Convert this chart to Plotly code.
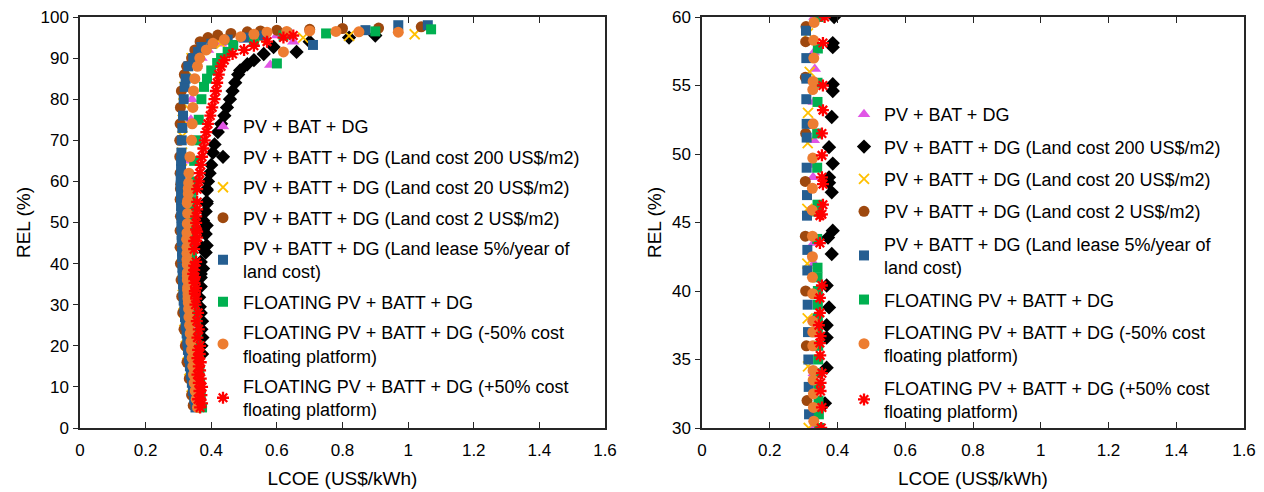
import plotly.graph_objects as go

# ---------------- data (REL %, LCOE US$/kWh) ----------------
names = [
    "PV + BAT + DG",
    "PV + BATT + DG (Land cost 200 US$/m2)",
    "PV + BATT + DG (Land cost 20 US$/m2)",
    "PV + BATT + DG (Land cost 2 US$/m2)",
    "PV + BATT + DG (Land lease 5%/year of<br>land cost)",
    "FLOATING PV + BATT + DG",
    "FLOATING PV + BATT + DG (-50% cost<br>floating platform)",
    "FLOATING PV + BATT + DG (+50% cost<br>floating platform)",
]

rel_pv_bat = [5, 10, 15, 20, 25, 30, 34, 38, 42, 43.5, 46, 48.3, 49.2, 51, 53.8, 56.2, 57.4, 60, 65, 70,
              75, 80, 85, 88, 88.3, 90, 92, 93.5, 94, 94.5, 95.5]
lcoe_pv_bat = [0.36, 0.35, 0.343, 0.337, 0.332, 0.33, 0.33, 0.33, 0.33, 0.33, 0.33, 0.328, 0.33, 0.33, 0.33,
               0.333, 0.33, 0.332, 0.334, 0.336, 0.338, 0.341, 0.345, 0.355, 0.58, 0.37, 0.39, 0.43, 0.65, 0.50, 0.60]

rel_land200 = [18, 20, 22, 24, 26, 28, 29.5, 31.8, 34.4, 36.6, 37.5, 38.8, 40.4, 42.7, 43.9, 44.4, 47.2, 47.9,
               48.3, 49.3, 50.5, 52.7, 54.6, 55.1, 57.8, 58.1, 60, 62, 64, 67, 69, 72, 74, 76, 78, 80, 82, 84,
               86, 87, 88.5, 89.5, 91, 92.7, 91.5, 94, 95, 95.5]
lcoe_land200 = [0.372, 0.37, 0.373, 0.37, 0.372, 0.368, 0.365, 0.363, 0.368, 0.368, 0.368, 0.375, 0.368, 0.383,
                0.372, 0.386, 0.383, 0.375, 0.375, 0.386, 0.375, 0.383, 0.386, 0.386, 0.386, 0.386, 0.39, 0.395,
                0.40, 0.405, 0.41, 0.42, 0.43, 0.44, 0.448, 0.457, 0.465, 0.473, 0.482, 0.488, 0.51, 0.53, 0.56,
                0.59, 0.66, 0.70, 0.82, 0.90]

rel_land20 = [6, 10, 14, 18, 22, 26, 30, 34.5, 38, 42, 46, 50.8, 53, 56, 58.8, 63, 67, 71, 75, 79, 83, 87, 90,
              92, 93.5, 94.5, 95, 95.4, 95.8]
lcoe_land20 = [0.348, 0.340, 0.333, 0.327, 0.322, 0.318, 0.315, 0.313, 0.312, 0.311, 0.311, 0.312, 0.313,
               0.318, 0.313, 0.311, 0.311, 0.312, 0.313, 0.315, 0.318, 0.325, 0.34, 0.37, 0.43, 0.55, 0.68,
               0.82, 1.02]

rel_land2 = [5.5, 8, 12, 16, 20, 24, 28, 32, 36, 40, 44, 48, 51.5, 55.6, 58.2, 59.3, 62, 66, 70, 74, 78, 82, 86,
             88, 90, 92, 94, 95, 95.6, 96, 96.4, 96.6, 96.8, 97, 97.2, 97.3, 97.6]
lcoe_land2 = [0.345, 0.340, 0.333, 0.326, 0.321, 0.317, 0.313, 0.310, 0.308, 0.306, 0.305, 0.305, 0.306, 0.305,
              0.306, 0.307, 0.305, 0.304, 0.304, 0.305, 0.306, 0.309, 0.318, 0.325, 0.34, 0.35, 0.366, 0.39,
              0.42, 0.46, 0.51, 0.55, 0.60, 0.70, 0.80, 0.91, 1.04]

rel_lease = [5, 7, 9, 11, 13, 15, 17, 19, 21, 23, 25, 27, 29, 31, 33, 35, 37, 39, 41.5, 43, 45.5, 47, 49, 51.2,
             52.2, 54, 55.5, 57, 59, 61, 63, 65, 67, 70, 73, 76, 80, 83, 85, 88, 90, 91.5, 92.7, 93.5, 94.5, 95,
             95.5, 96, 93.2, 96.8, 98, 98]
lcoe_lease = [0.352, 0.348, 0.344, 0.341, 0.338, 0.335, 0.332, 0.329, 0.327, 0.325, 0.322, 0.320, 0.318, 0.316,
              0.315, 0.314, 0.313, 0.312, 0.311, 0.311, 0.310, 0.310, 0.309, 0.309, 0.309, 0.308, 0.308, 0.308,
              0.307, 0.307, 0.308, 0.308, 0.309, 0.310, 0.312, 0.314, 0.316, 0.319, 0.322, 0.33, 0.345, 0.36,
              0.37, 0.40, 0.45, 0.50, 0.56, 0.63, 0.71, 0.87, 0.97, 1.06]

rel_float = [5, 8, 11, 14, 17, 20, 23, 26, 28, 29, 30, 31, 32, 33, 34, 35, 36, 37, 38, 39, 40, 41, 41.7, 43.8,
             45.8, 46.3, 49, 51.5, 53.8, 55.2, 57.7, 60, 65, 70, 75, 80, 83, 85, 87, 88.8, 88.7, 90, 91.5, 93.2,
             94.4, 95.5, 96, 96.5, 97]
lcoe_float = [0.372, 0.368, 0.366, 0.364, 0.362, 0.360, 0.357, 0.354, 0.351, 0.348, 0.346, 0.345, 0.344, 0.344,
              0.343, 0.343, 0.343, 0.342, 0.342, 0.342, 0.342, 0.341, 0.341, 0.340, 0.340, 0.341, 0.340, 0.340,
              0.341, 0.341, 0.342, 0.344, 0.348, 0.355, 0.362, 0.37, 0.378, 0.387, 0.40, 0.418, 0.60, 0.43,
              0.45, 0.467, 0.53, 0.62, 0.75, 0.90, 1.07]

rel_float_m50 = [5, 7, 9, 11, 13, 15, 17, 19, 21, 23, 25, 27, 29, 30.5, 31.5, 32.5, 33.5, 34.2, 36, 37, 37.8,
                 39.8, 41, 42.5, 44, 45.9, 47.5, 49.7, 52.2, 54.7, 55.3, 57, 58.3, 59.6, 62, 66, 70, 74, 78, 82,
                 85, 88, 90, 91.5, 92, 93.6, 94.5, 95.2, 95.8, 96.3, 96.5, 96.6, 96.5, 96.4, 96.3]
lcoe_float_m50 = [0.358, 0.354, 0.351, 0.348, 0.346, 0.344, 0.342, 0.340, 0.338, 0.336, 0.334, 0.332, 0.331,
                  0.330, 0.329, 0.329, 0.328, 0.328, 0.327, 0.327, 0.327, 0.327, 0.326, 0.326, 0.326, 0.325,
                  0.326, 0.327, 0.328, 0.327, 0.328, 0.330, 0.330, 0.331, 0.332, 0.335, 0.340, 0.342, 0.344,
                  0.346, 0.350, 0.358, 0.365, 0.62, 0.385, 0.405, 0.44, 0.49, 0.53, 0.57, 0.63, 0.70, 0.78,
                  0.85, 0.97]

rel_float_p50 = [5, 6, 7, 8, 9, 10, 11, 12, 13, 14, 15, 16, 17, 18, 19, 20, 22, 24, 26, 28, 30, 31.5, 32.7,
                 33.3, 34, 35.3, 36.2, 36.7, 37.5, 38.4, 39.5, 40.4, 43.5, 45.5, 45.6, 46.3, 47.8, 48.3, 49.9,
                 51.5, 53.2, 55, 58.1, 60, 62, 64, 66, 68, 70, 72, 74, 76, 78, 80, 82, 84, 86, 88, 89.5, 91,
                 92, 93, 94, 95, 95.5]
lcoe_float_p50 = [0.366, 0.372, 0.360, 0.370, 0.364, 0.372, 0.362, 0.368, 0.358, 0.366, 0.362, 0.368, 0.358,
                  0.365, 0.360, 0.366, 0.358, 0.362, 0.356, 0.360, 0.352, 0.354, 0.350, 0.350, 0.354, 0.349,
                  0.348, 0.350, 0.345, 0.348, 0.348, 0.354, 0.348, 0.348, 0.354, 0.357, 0.357, 0.354, 0.354,
                  0.354, 0.357, 0.357, 0.357, 0.362, 0.365, 0.368, 0.372, 0.376, 0.38, 0.385, 0.39, 0.397,
                  0.403, 0.41, 0.414, 0.418, 0.423, 0.43, 0.44, 0.465, 0.50, 0.53, 0.57, 0.62, 0.65]

series_rel = [rel_pv_bat, rel_land200, rel_land20, rel_land2, rel_lease, rel_float, rel_float_m50, rel_float_p50]
series_lcoe = [lcoe_pv_bat, lcoe_land200, lcoe_land20, lcoe_land2, lcoe_lease, lcoe_float, lcoe_float_m50,
               lcoe_float_p50]

x_ticks = [0, 0.2, 0.4, 0.6, 0.8, 1, 1.2, 1.4, 1.6]

# ---------------- styles ----------------
styles = [
    dict(symbol="triangle-up", color="#E055E6", size=11, lw=0),
    dict(symbol="diamond", color="#000000", size=11, lw=0),
    dict(symbol="x-thin-open", color="#FFC000", size=10, lw=1.8),
    dict(symbol="circle", color="#9E480E", size=11, lw=0),
    dict(symbol="square", color="#255E91", size=10, lw=0),
    dict(symbol="square", color="#00B050", size=10, lw=0),
    dict(symbol="circle", color="#ED7D31", size=11, lw=0),
    dict(symbol="asterisk-open", color="#FF0000", size=10, lw=2.3),
]

FONT = "Arial, Liberation Sans, sans-serif"
fig = go.Figure()

for panel, (xa, ya, leg) in enumerate([("x", "y", "legend"), ("x2", "y2", "legend2")]):
    for i, (nm, r, l, st) in enumerate(zip(names, series_rel, series_lcoe, styles)):
        fig.add_trace(go.Scatter(
            x=l, y=r, mode="markers", name=nm, xaxis=xa, yaxis=ya, legend=leg,
            legendgroup=f"{panel}_{i}",
            cliponaxis=True,
            marker=dict(symbol=st["symbol"], color=st["color"], size=st["size"],
                        line=dict(width=st["lw"], color=st["color"])),
        ))

axis_common = dict(showgrid=False, zeroline=False, showline=True, linecolor="#262626", linewidth=1.5,
                   tickfont=dict(family=FONT, size=17, color="#000"), tickcolor="#262626", automargin=False)

xdom1 = [80 / 1264, 605 / 1264]
xdom2 = [702 / 1264, 1244 / 1264]
ydom = [64 / 492, 475 / 492]

xcommon = dict(axis_common, range=[0, 1.6], tickvals=x_ticks, ticks="inside", ticklen=6, mirror="ticks",
               ticklabelstandoff=6,
               title=dict(text="LCOE (US$/kWh)", font=dict(family=FONT, size=19, color="#000"), standoff=13))
ycommon = dict(axis_common, ticks="outside", ticklen=5, mirror=True, ticklabelstandoff=1,
               title=dict(text="REL (%)", font=dict(family=FONT, size=19, color="#000"), standoff=5))

fig.update_layout(
    width=1264, height=492,
    margin=dict(l=0, r=0, t=0, b=0, autoexpand=False),
    plot_bgcolor="white", paper_bgcolor="white",
    xaxis=dict(xcommon, domain=xdom1, anchor="y"),
    xaxis2=dict(xcommon, domain=xdom2, anchor="y2"),
    yaxis=dict(ycommon, domain=ydom, anchor="x", range=[0, 100], dtick=10),
    yaxis2=dict(ycommon, domain=ydom, anchor="x2", range=[30, 60], dtick=5),
    yaxis3=dict(overlaying="y", side="right", anchor="x", range=[0, 100], dtick=10, ticks="inside", ticklen=5,
                tickcolor="#262626", showticklabels=False, showgrid=False, zeroline=False, showline=False),
    yaxis4=dict(overlaying="y2", side="right", anchor="x2", range=[30, 60], dtick=5, ticks="inside", ticklen=5,
                tickcolor="#262626", showticklabels=False, showgrid=False, zeroline=False, showline=False),
    legend=dict(x=203 / 1264, y=0.780, xanchor="left", yanchor="top", bgcolor="rgba(0,0,0,0)",
                font=dict(family=FONT, size=18, color="#000"), tracegroupgap=4, traceorder="grouped",
                itemclick=False),
    legend2=dict(x=844 / 1264, y=0.805, xanchor="left", yanchor="top", bgcolor="rgba(0,0,0,0)",
                 font=dict(family=FONT, size=18, color="#000"), tracegroupgap=6, traceorder="grouped",
                 itemclick=False),
    showlegend=True,
)

fig.write_html("out.html", config={"displayModeBar": False},
               post_script="document.body.style.margin='0';")
